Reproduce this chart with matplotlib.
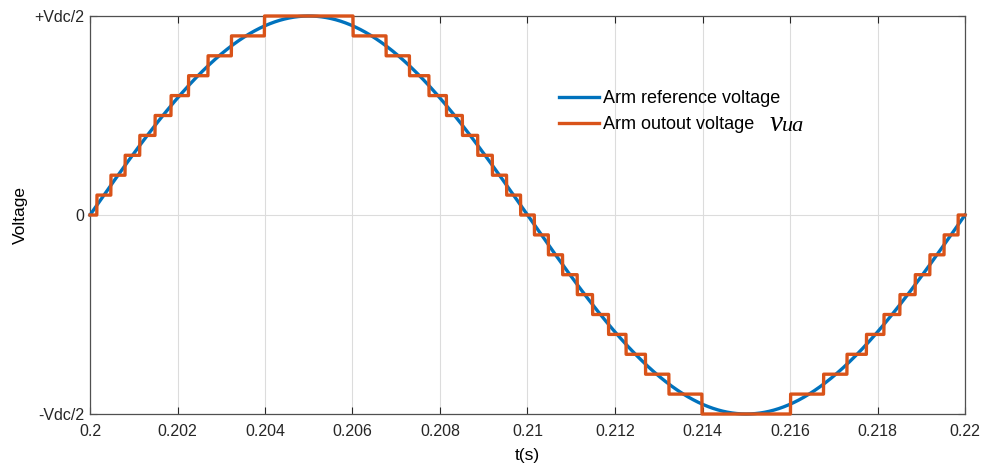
import numpy as np
import matplotlib.pyplot as plt

plt.rcParams['font.family'] = ['Liberation Sans', 'DejaVu Sans']

# 50 Hz arm reference, 20 submodules -> 10 levels per half amplitude
freq = 50.0
n_levels = 10
t_start, t_end = 0.2, 0.22
x_ticks = [0.2, 0.202, 0.204, 0.206, 0.208, 0.21, 0.212, 0.214, 0.216, 0.218, 0.22]
x_tick_labels = ['0.2', '0.202', '0.204', '0.206', '0.208', '0.21', '0.212',
                 '0.214', '0.216', '0.218', '0.22']
y_ticks = [-1, 0, 1]
y_tick_labels = ['-Vdc/2', '0', '+Vdc/2']

t = np.linspace(t_start, t_end, 4001)
v_ref = np.sin(2 * np.pi * freq * (t - t_start))
v_out = np.round(v_ref * n_levels) / n_levels  # nearest level modulation

fig = plt.figure(figsize=(9.87, 4.65), dpi=100)
ax = fig.add_axes([90 / 987, 1 - 414 / 465, 875 / 987, 398 / 465])

ax.plot(t, v_ref, color='#0072BD', lw=2.4, label='Arm reference voltage',
        clip_on=False, zorder=3)
ax.plot(t, v_out, color='#D95319', lw=2.4, label='Arm outout voltage',
        clip_on=False, zorder=4)

ax.set_xlim(t_start, t_end)
ax.set_ylim(-1, 1)
ax.set_xticks(x_ticks)
ax.set_xticklabels(x_tick_labels)
ax.set_yticks(y_ticks)
ax.set_yticklabels(y_tick_labels)
ax.tick_params(direction='in', top=True, right=True, labelsize=11.5,
               colors='#262626', length=5, width=0.8)
ax.tick_params(axis='x', pad=7)
ax.tick_params(axis='y', pad=4)
ax.grid(True, color='#dcdcdc', lw=0.8)
for s in ax.spines.values():
    s.set_color('#505050')
    s.set_linewidth(0.9)

ax.set_xlabel('t(s)', fontsize=12.5, labelpad=7)
ax.set_ylabel('Voltage', fontsize=12.5, labelpad=5)

leg = ax.legend(loc='upper left', bbox_to_anchor=(462 / 875, 1 - 67 / 398),
                frameon=False, fontsize=13, handlelength=2.2,
                handletextpad=0.25, labelspacing=0.5, borderaxespad=0)

fig.text(770 / 987, 1 - 131 / 465, 'v', family='Liberation Serif',
         style='italic', fontsize=21)
fig.text(782 / 987, 1 - 131 / 465, 'ua', family='Liberation Serif',
         style='italic', fontsize=16)

fig.savefig('out.png', dpi=100)
